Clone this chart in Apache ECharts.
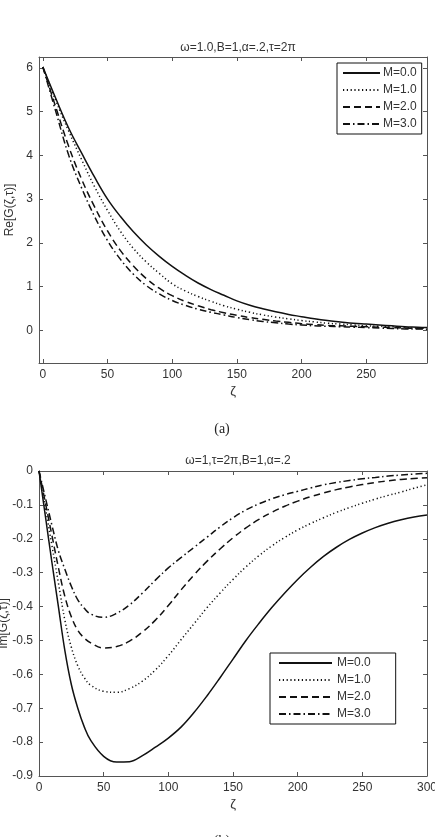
<!DOCTYPE html>
<html lang="en">

<head>
    <meta charset="UTF-8">
    <title>Re / Im G(zeta, tau)</title>
    <style>
        html, body { margin: 0; padding: 0; background: #fff; }
        .div { width: 435px; height: 837px; }
    </style>
</head>

<body>
    <div class="div"></div>
</body>
<script src="https://cdn.jsdelivr.net/npm/echarts@6/dist/echarts.min.js"></script>

<script>
    // (a) Re[G] against zeta
    var xsA = [0, 10, 20, 30, 40, 50, 60, 70, 80, 90, 100, 110, 120, 130, 140, 150, 160, 170, 180, 190,
        200, 210, 220, 230, 240, 250, 260, 270, 280, 290, 297];
    var reM0 = [6.02, 5.3, 4.62, 4.05, 3.5, 3.0, 2.6, 2.25, 1.95, 1.69, 1.46, 1.26, 1.08, 0.93, 0.8, 0.67, 0.57, 0.49,
        0.42, 0.36, 0.31, 0.26, 0.22, 0.19, 0.16, 0.14, 0.12, 0.1, 0.08, 0.07, 0.06];
    var reM1 = [6.02, 5.25, 4.55, 3.9, 3.28, 2.74, 2.26, 1.87, 1.56, 1.3, 1.06, 0.9, 0.77, 0.66, 0.56, 0.48, 0.41, 0.35,
        0.3, 0.26, 0.22, 0.19, 0.16, 0.14, 0.12, 0.1, 0.09, 0.08, 0.06, 0.05, 0.05];
    var reM2 = [6.02, 5.1, 4.2, 3.45, 2.82, 2.27, 1.82, 1.47, 1.18, 0.96, 0.79, 0.66, 0.56, 0.47, 0.4, 0.34, 0.29, 0.25,
        0.21, 0.18, 0.15, 0.13, 0.11, 0.1, 0.09, 0.08, 0.07, 0.06, 0.05, 0.04, 0.04];
    var reM3 = [6.02, 5.0, 4.0, 3.25, 2.6, 2.05, 1.62, 1.28, 1.02, 0.83, 0.68, 0.57, 0.48, 0.41, 0.35, 0.29, 0.24, 0.2,
        0.17, 0.14, 0.12, 0.1, 0.09, 0.08, 0.07, 0.06, 0.05, 0.04, 0.03, 0.03, 0.02];

    // (b) Im[G] against zeta
    var xsB = [0, 5, 10, 15, 20, 25, 30, 35, 40, 50, 60, 70, 80, 90, 100, 110, 120, 130, 140, 150, 160, 170, 180, 190,
        200, 210, 220, 230, 240, 250, 260, 270, 280, 290, 300];
    var imM0 = [0, -0.135, -0.27, -0.4, -0.53, -0.63, -0.7, -0.755, -0.795, -0.842, -0.859, -0.858, -0.84, -0.815, -0.788,
        -0.755, -0.712, -0.663, -0.61, -0.555, -0.5, -0.45, -0.403, -0.36, -0.32, -0.284, -0.252, -0.225, -0.202,
        -0.183, -0.167, -0.154, -0.144, -0.136, -0.13];
    var imM1 = [0, -0.11, -0.22, -0.33, -0.44, -0.52, -0.575, -0.61, -0.632, -0.65, -0.653, -0.642, -0.62, -0.587,
        -0.545, -0.497, -0.45, -0.403, -0.36, -0.32, -0.283, -0.25, -0.221, -0.196, -0.174, -0.155, -0.138, -0.122,
        -0.108, -0.095, -0.083, -0.072, -0.062, -0.051, -0.041];
    var imM2 = [0, -0.095, -0.19, -0.285, -0.37, -0.43, -0.47, -0.493, -0.507, -0.522, -0.518, -0.502, -0.475, -0.44,
        -0.397, -0.35, -0.306, -0.266, -0.23, -0.197, -0.168, -0.143, -0.122, -0.104, -0.089, -0.076, -0.065, -0.055,
        -0.047, -0.04, -0.034, -0.029, -0.025, -0.022, -0.02];
    var imM3 = [0, -0.08, -0.16, -0.235, -0.29, -0.34, -0.38, -0.405, -0.422, -0.432, -0.42, -0.395, -0.36, -0.322,
        -0.286, -0.255, -0.225, -0.195, -0.165, -0.138, -0.115, -0.097, -0.082, -0.07, -0.06, -0.05, -0.041, -0.034,
        -0.028, -0.023, -0.019, -0.015, -0.012, -0.009, -0.007];

    var names = ['M=0.0', 'M=1.0', 'M=2.0', 'M=3.0'];
    var ticksA = [0, 50, 100, 150, 200, 250];
    var ticksAy = [0, 1, 2, 3, 4, 5, 6];

    var dashes = ['solid', [1.2, 2.6], [7, 4], [7, 3, 1.5, 3]];
    var font = 'Liberation Sans';
    var axisCol = '#555';
    var textCol = '#333';

    function zip(xs, ys) {
        return xs.map(function (x, i) { return [x, ys[i]]; });
    }

    // one axis per side, MATLAB style box with inward ticks
    function xAx(gi, pos, min, max, opts) {
        return Object.assign({
            type: 'value', gridIndex: gi, position: pos, min: min, max: max,
            axisLine: { show: true, onZero: false, lineStyle: { color: axisCol, width: 1 } },
            axisTick: { show: true, inside: true, length: 4, lineStyle: { color: axisCol } },
            axisLabel: { show: pos === 'bottom', color: textCol, fontFamily: font, fontSize: 12, margin: 6 },
            splitLine: { show: false }
        }, opts);
    }
    function yAx(gi, pos, min, max, opts) {
        return Object.assign({
            type: 'value', gridIndex: gi, position: pos, min: min, max: max,
            axisLine: { show: true, onZero: false, lineStyle: { color: axisCol, width: 1 } },
            axisTick: { show: true, inside: true, length: 4, lineStyle: { color: axisCol } },
            axisLabel: { show: pos === 'left', color: textCol, fontFamily: font, fontSize: 12, margin: 6 },
            splitLine: { show: false }
        }, opts);
    }

    var tickA = { show: true, inside: true, length: 4, lineStyle: { color: axisCol }, customValues: ticksA };
    var tickAy = { show: true, inside: true, length: 4, lineStyle: { color: axisCol }, customValues: ticksAy };

    var xAxes = [
        xAx(0, 'bottom', -3, 297, {
            axisTick: tickA,
            axisLabel: { color: textCol, fontFamily: font, fontSize: 12, margin: 6, customValues: ticksA },
            name: 'ζ', nameLocation: 'middle', nameGap: 22,
            nameTextStyle: { color: textCol, fontFamily: font, fontSize: 13 }
        }),
        xAx(0, 'top', -3, 297, { axisTick: tickA }),
        xAx(1, 'bottom', 0, 300, {
            interval: 50,
            name: 'ζ', nameLocation: 'middle', nameGap: 22,
            nameTextStyle: { color: textCol, fontFamily: font, fontSize: 13 }
        }),
        xAx(1, 'top', 0, 300, { interval: 50 })
    ];
    var yAxes = [
        yAx(0, 'left', -0.75, 6.25, {
            axisTick: tickAy,
            axisLabel: { color: textCol, fontFamily: font, fontSize: 12, margin: 6, customValues: ticksAy },
            name: 'Re[G(ζ,τ)]', nameLocation: 'middle', nameGap: 22,
            nameTextStyle: { color: textCol, fontFamily: font, fontSize: 12 }
        }),
        yAx(0, 'right', -0.75, 6.25, { axisTick: tickAy }),
        yAx(1, 'left', -0.9, 0, {
            interval: 0.1,
            name: 'Im[G(ζ,τ)]', nameLocation: 'middle', nameGap: 29, nameMoveOverlap: false,
            nameTextStyle: { color: textCol, fontFamily: font, fontSize: 12 }
        }),
        yAx(1, 'right', -0.9, 0, { interval: 0.1 })
    ];

    var series = [];
    [reM0, reM1, reM2, reM3].forEach(function (ys, i) {
        series.push({
            name: names[i], type: 'line', xAxisIndex: 0, yAxisIndex: 0,
            data: zip(xsA, ys), smooth: 0.4, symbol: 'none', color: '#111',
            lineStyle: { color: '#111', width: 1.5, type: dashes[i] }
        });
    });
    [imM0, imM1, imM2, imM3].forEach(function (ys, i) {
        series.push({
            name: names[i], type: 'line', xAxisIndex: 2, yAxisIndex: 2,
            data: zip(xsB, ys), smooth: 0.4, symbol: 'none', color: '#111',
            lineStyle: { color: '#111', width: 1.5, type: dashes[i] }
        });
    });

    var mChart = echarts.init(document.getElementsByTagName("div")[0]);
    var option = {
        animation: false,
        backgroundColor: '#fff',
        title: [
            {
                text: 'ω=1.0,B=1,α=.2,τ=2π', left: 233, top: 37, textAlign: 'center',
                textStyle: { color: textCol, fontFamily: font, fontSize: 12, fontWeight: 'normal' }
            },
            {
                text: 'ω=1,τ=2π,B=1,α=.2', left: 233, top: 450, textAlign: 'center',
                textStyle: { color: textCol, fontFamily: font, fontSize: 12, fontWeight: 'normal' }
            },
            {
                text: '(a)', left: 217, top: 417, textAlign: 'center',
                textStyle: { color: '#222', fontFamily: 'Liberation Serif', fontSize: 14, fontWeight: 'normal' }
            },
            {
                text: '(b)', left: 217, top: 829, textAlign: 'center',
                textStyle: { color: '#222', fontFamily: 'Liberation Serif', fontSize: 14, fontWeight: 'normal' }
            }
        ],
        grid: [
            { left: 39, right: 8, top: 57, height: 306, outerBoundsMode: 'none' },
            { left: 39, right: 8, top: 471, height: 305, outerBoundsMode: 'none' }
        ],
        legend: [
            {
                data: names, orient: 'vertical', left: 337, top: 63,
                itemWidth: 37, itemHeight: 10, itemGap: 5,
                padding: [4, 5, 4, 5],
                borderColor: '#111', borderWidth: 1, backgroundColor: '#fff',
                itemStyle: { opacity: 0 },
                textStyle: { color: textCol, fontFamily: font, fontSize: 12, padding: [0, 0, 0, -2] }
            },
            {
                data: names, orient: 'vertical', left: 270, top: 653,
                itemWidth: 53, itemHeight: 10, itemGap: 5,
                padding: [4, 25, 4, 8],
                borderColor: '#111', borderWidth: 1, backgroundColor: '#fff',
                itemStyle: { opacity: 0 },
                textStyle: { color: textCol, fontFamily: font, fontSize: 12 }
            }
        ],
        xAxis: xAxes,
        yAxis: yAxes,
        series: series
    };

    mChart.setOption(option);

</script>

</html>
